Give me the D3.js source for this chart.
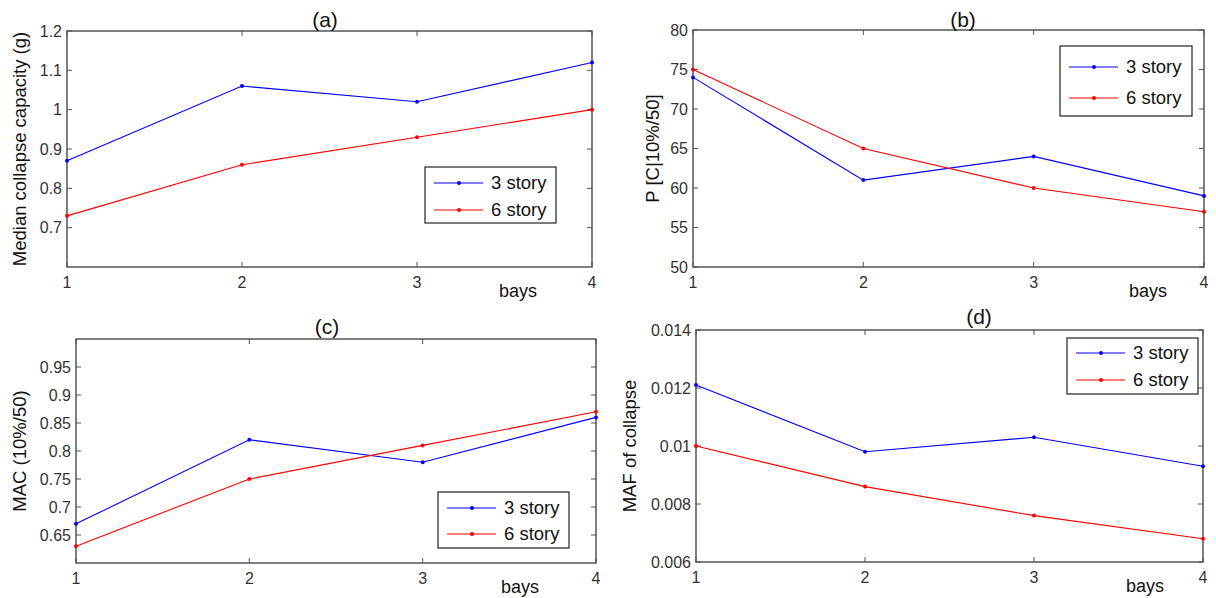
<!DOCTYPE html>
<html>
<head>
<meta charset="utf-8">
<script src="https://d3js.org/d3.v7.min.js"></script>
<style>
  body { margin: 0; background: #fff; }
  svg { display: block; font-family: "Liberation Sans", Arial, sans-serif; }
</style>
</head>
<body>
<div id="chart"></div>
<script>
// data
var bays = [1, 2, 3, 4];
var seriesNames = ["3 story", "6 story"];
var seriesColours = ["#0000ff", "#ff0000"];

var capacity3 = [0.87, 1.06, 1.02, 1.12];
var capacity6 = [0.73, 0.86, 0.93, 1.00];
var capacityTicks = [0.7, 0.8, 0.9, 1, 1.1, 1.2];

var probability3 = [74, 61, 64, 59];
var probability6 = [75, 65, 60, 57];
var probabilityTicks = [50, 55, 60, 65, 70, 75, 80];

var mac3 = [0.67, 0.82, 0.78, 0.86];
var mac6 = [0.63, 0.75, 0.81, 0.87];
var macTicks = [0.65, 0.7, 0.75, 0.8, 0.85, 0.9, 0.95];

var maf3 = [0.0121, 0.0098, 0.0103, 0.0093];
var maf6 = [0.0100, 0.0086, 0.0076, 0.0068];
var mafTicks = [0.006, 0.008, 0.01, 0.012, 0.014];

var panels = [
  { title: "(a)", ylabel: "Median collapse capacity (g)", series: [capacity3, capacity6],
    domain: [0.6, 1.2], ticks: capacityTicks,
    box: [67, 31, 592, 267], titleAt: [325, 27], ylabelX: 26, baysX: 518,
    legend: [425, 167, 131, 56, 183, 210] },
  { title: "(b)", ylabel: "P [C|10%/50]", series: [probability3, probability6],
    domain: [50, 80], ticks: probabilityTicks,
    box: [693, 30, 1204, 267], titleAt: [963, 27], ylabelX: 659, baysX: 1148,
    legend: [1060, 46, 132, 70, 67, 98] },
  { title: "(c)", ylabel: "MAC (10%/50)", series: [mac3, mac6],
    domain: [0.6, 1.0], ticks: macTicks,
    box: [76, 339, 596, 563], titleAt: [327, 334], ylabelX: 26, baysX: 520,
    legend: [438, 492, 131, 56, 508, 534] },
  { title: "(d)", ylabel: "MAF of collapse", series: [maf3, maf6],
    domain: [0.006, 0.014], ticks: mafTicks,
    box: [696, 330, 1203, 562], titleAt: [979, 324], ylabelX: 636, baysX: 1145,
    legend: [1067, 338, 131, 56, 353, 380] }
];

var width = 1216, height = 598;
var svg = d3.select("#chart").append("svg")
  .attr("width", width)
  .attr("height", height);

var axisColour = "#555555";
var textColour = "#333333";

panels.forEach(function(p) {
  var left = p.box[0], top = p.box[1], right = p.box[2], bottom = p.box[3];

  var x = d3.scaleLinear().domain([1, 4]).range([left, right]);
  var y = d3.scaleLinear().domain(p.domain).range([bottom, top]);

  var g = svg.append("g");

  // frame
  g.append("rect")
    .attr("x", left).attr("y", top)
    .attr("width", right - left).attr("height", bottom - top)
    .attr("fill", "none").attr("stroke", axisColour).attr("stroke-width", 1.5);

  // inward ticks on all four sides
  var tl = 5;
  bays.forEach(function(b) {
    g.append("line").attr("x1", x(b)).attr("x2", x(b)).attr("y1", bottom).attr("y2", bottom - tl)
      .attr("stroke", axisColour);
    g.append("line").attr("x1", x(b)).attr("x2", x(b)).attr("y1", top).attr("y2", top + tl)
      .attr("stroke", axisColour);
    g.append("text").attr("x", x(b)).attr("y", bottom + 21)
      .attr("text-anchor", "middle").attr("font-size", 16).attr("fill", textColour)
      .text(b);
  });
  p.ticks.forEach(function(t) {
    g.append("line").attr("x1", left).attr("x2", left + tl).attr("y1", y(t)).attr("y2", y(t))
      .attr("stroke", axisColour);
    g.append("line").attr("x1", right).attr("x2", right - tl).attr("y1", y(t)).attr("y2", y(t))
      .attr("stroke", axisColour);
    g.append("text").attr("x", left - 5).attr("y", y(t)).attr("dy", "0.35em")
      .attr("text-anchor", "end").attr("font-size", 16).attr("fill", textColour)
      .text(String(t));
  });

  // series
  var line = d3.line()
    .x(function(d, i) { return x(bays[i]); })
    .y(function(d) { return y(d); });

  p.series.forEach(function(vals, k) {
    g.append("path").datum(vals)
      .attr("d", line)
      .attr("fill", "none")
      .attr("stroke", seriesColours[k])
      .attr("stroke-width", 1.1);
    g.selectAll(null).data(vals).enter().append("circle")
      .attr("cx", function(d, i) { return x(bays[i]); })
      .attr("cy", function(d) { return y(d); })
      .attr("r", 2)
      .attr("fill", seriesColours[k]);
  });

  // labels
  g.append("text").attr("x", p.titleAt[0]).attr("y", p.titleAt[1])
    .attr("text-anchor", "middle").attr("font-size", 21).attr("fill", "#111")
    .text(p.title);
  g.append("text").attr("x", p.baysX).attr("y", bottom + 30)
    .attr("text-anchor", "middle").attr("font-size", 18).attr("fill", "#111")
    .text("bays");
  g.append("text")
    .attr("transform", "translate(" + p.ylabelX + "," + ((top + bottom) / 2) + ") rotate(-90)")
    .attr("text-anchor", "middle").attr("font-size", 18.5).attr("fill", "#111")
    .text(p.ylabel);

  // legend
  var L = p.legend;
  g.append("rect").attr("x", L[0]).attr("y", L[1]).attr("width", L[2]).attr("height", L[3])
    .attr("fill", "#fff").attr("stroke", "#222").attr("stroke-width", 1.2);
  seriesNames.forEach(function(name, k) {
    var ly = L[4 + k];
    g.append("line").attr("x1", L[0] + 9).attr("x2", L[0] + 58).attr("y1", ly).attr("y2", ly)
      .attr("stroke", seriesColours[k]).attr("stroke-width", 1.1);
    g.append("circle").attr("cx", L[0] + 34).attr("cy", ly).attr("r", 2)
      .attr("fill", seriesColours[k]);
    g.append("text").attr("x", L[0] + 66).attr("y", ly).attr("dy", "0.35em")
      .attr("font-size", 18.5).attr("fill", "#111")
      .text(name);
  });
});
</script>
</body>
</html>
